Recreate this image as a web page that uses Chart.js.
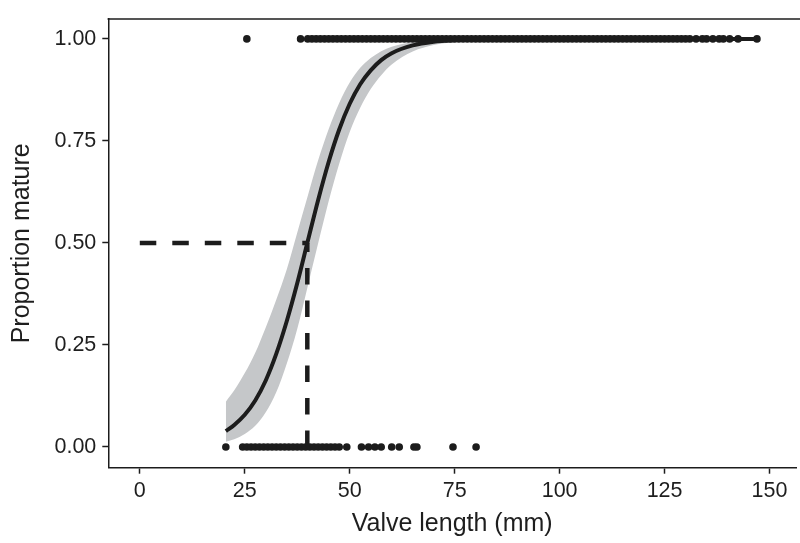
<!DOCTYPE html>
<html>
<head>
<meta charset="utf-8">
<script src="https://cdn.jsdelivr.net/npm/chart.js@4/dist/chart.umd.min.js"></script>
<style>
  html, body { margin: 0; padding: 0; background: #ffffff; }
  #wrap { width: 800px; height: 543px; position: relative; }
</style>
</head>
<body>
<div id="wrap"><canvas id="c" width="800" height="543"></canvas></div>
<script>
// ---- data ----
const xTicks = [0, 25, 50, 75, 100, 125, 150];
const yTicks = [0, 0.25, 0.5, 0.75, 1];

// valve lengths (mm) of immature individuals (plotted at 0)
const immatureLength = [20.5, 24.5, 25.5, 26.5, 27.5, 28.5, 29.5, 30.5, 31.5, 32.5, 33.5, 34.5,
  35.5, 36.5, 37.5, 38.5, 39.5, 40.5, 41.5, 42.5, 43.5, 44.5, 45.5, 46.5, 47.5, 49.3,
  52.8, 54.5, 56, 57.5, 60, 61.8, 65.3, 66, 74.6, 80.1];

// valve lengths (mm) of mature individuals (plotted at 1)
const matureLength = [25.5, 38.3, 40, 41, 42, 43, 44, 45, 46, 47, 48, 49, 50, 51, 52, 53, 54, 55,
  56, 57, 58, 59, 60, 61, 62, 63, 64, 65, 66, 67, 68, 69, 70, 71, 72, 73, 74, 75, 76, 77, 78, 79,
  80, 81, 82, 83, 84, 85, 86, 87, 88, 89, 90, 91, 92, 93, 94, 95, 96, 97, 98, 99, 100, 101, 102,
  103, 104, 105, 106, 107, 108, 109, 110, 111, 112, 113, 114, 115, 116, 117, 118, 119, 120, 121,
  122, 123, 124, 125, 126, 127, 128, 129, 130, 131, 132.5, 134, 135, 136.5, 138, 139, 140.5, 142.5, 147];

// fitted logistic curve and its confidence band
const fitLength = [20.5, 22.5, 25, 27.5, 30, 32.5, 35, 37.5, 40, 42.5, 45, 47.5, 50, 52.5, 55, 57.5,
  60, 65, 70, 75, 80, 90, 100, 120, 147];
const fitProb = [0.039, 0.054, 0.079, 0.114, 0.163, 0.228, 0.308, 0.401, 0.504, 0.606, 0.699, 0.778,
  0.841, 0.889, 0.923, 0.948, 0.965, 0.984, 0.993, 0.997, 0.999, 1.0, 1.0, 1.0, 1.0];
const fitLower = [0.013, 0.019, 0.032, 0.052, 0.085, 0.134, 0.204, 0.289, 0.394, 0.500, 0.603, 0.694,
  0.772, 0.831, 0.877, 0.911, 0.937, 0.969, 0.985, 0.992, 0.996, 0.999, 1.0, 1.0, 1.0];
const fitUpper = [0.111, 0.139, 0.181, 0.231, 0.293, 0.361, 0.435, 0.525, 0.615, 0.703, 0.779, 0.843,
  0.893, 0.929, 0.953, 0.970, 0.981, 0.992, 0.997, 0.999, 1.0, 1.0, 1.0, 1.0, 1.0];

// length at 50% maturity (dashed guide)
const l50 = 39.9;
const l50Prob = 0.5;

// ---- build ----
const ink = '#1c1c1c';
const pts = (xs, ys) => xs.map((x, i) => ({ x: x, y: Array.isArray(ys) ? ys[i] : ys }));

const topBorder = {
  id: 'topBorder',
  afterDraw(chart) {
    const a = chart.chartArea, ctx = chart.ctx;
    ctx.save();
    ctx.strokeStyle = ink;
    ctx.lineWidth = 1.5;
    ctx.beginPath();
    ctx.moveTo(a.left - 0.75, a.top);
    ctx.lineTo(chart.width, a.top);
    ctx.stroke();
    ctx.restore();
  }
};

new Chart(document.getElementById('c'), {
  type: 'scatter',
  data: {
    datasets: [
      { // dashed horizontal guide
        data: [{ x: 0, y: l50Prob }, { x: l50, y: l50Prob }],
        showLine: true, borderColor: ink, borderWidth: 4.5, borderDash: [16.5, 16],
        borderCapStyle: 'butt', pointRadius: 0, order: 0
      },
      { // dashed vertical guide
        data: [{ x: l50, y: 0 }, { x: l50, y: l50Prob }],
        showLine: true, borderColor: ink, borderWidth: 4.5, borderDash: [16.5, 16],
        borderCapStyle: 'butt', pointRadius: 0, order: 0
      },
      { // fitted curve
        data: pts(fitLength, fitProb),
        showLine: true, borderColor: ink, borderWidth: 4, pointRadius: 0,
        cubicInterpolationMode: 'monotone', order: 1
      },
      { // mature points
        data: pts(matureLength, 1),
        backgroundColor: ink, borderWidth: 0, pointRadius: 3.8, order: 2
      },
      { // immature points
        data: pts(immatureLength, 0),
        backgroundColor: ink, borderWidth: 0, pointRadius: 3.8, order: 2
      },
      { // band upper
        data: pts(fitLength, fitUpper),
        showLine: true, borderWidth: 0, borderColor: 'rgba(0,0,0,0)', pointRadius: 0,
        cubicInterpolationMode: 'monotone', fill: '+1', backgroundColor: '#c5c7c9', order: 3
      },
      { // band lower
        data: pts(fitLength, fitLower),
        showLine: true, borderWidth: 0, borderColor: 'rgba(0,0,0,0)', pointRadius: 0,
        cubicInterpolationMode: 'monotone', order: 4
      }
    ]
  },
  options: {
    responsive: false,
    animation: false,
    events: [],
    layout: { padding: { top: 15, right: 0, left: 0, bottom: 0 } },
    plugins: { legend: { display: false }, tooltip: { enabled: false } },
    scales: {
      x: {
        type: 'linear', min: -7.5, max: 156.3,
        afterBuildTicks: s => { s.ticks = xTicks.map(v => ({ value: v })); },
        afterFit: s => { s.height = 75.3; },
        ticks: { color: '#1e1e1e', font: { family: 'Liberation Sans', size: 21.5 }, padding: 4,
                 maxRotation: 0, autoSkip: false, callback: v => String(v) },
        grid: { drawOnChartArea: false, drawTicks: true, tickLength: 6, tickWidth: 1.5, tickColor: ink },
        border: { display: true, color: ink, width: 1.5 },
        title: { display: true, text: 'Valve length (mm)', color: '#1e1e1e',
                 font: { family: 'Liberation Sans', size: 25 }, padding: { top: 0, bottom: 4 } }
      },
      y: {
        type: 'linear', min: -0.0508, max: 1.049,
        afterBuildTicks: s => { s.ticks = yTicks.map(v => ({ value: v })); },
        afterFit: s => { s.width = 108.3; },
        ticks: { color: '#1e1e1e', font: { family: 'Liberation Sans', size: 21.5 }, padding: 6,
                 autoSkip: false, callback: v => Number(v).toFixed(2) },
        grid: { drawOnChartArea: false, drawTicks: true, tickLength: 6, tickWidth: 1.5, tickColor: ink },
        border: { display: true, color: ink, width: 1.5 },
        title: { display: true, text: 'Proportion mature', color: '#1e1e1e',
                 font: { family: 'Liberation Sans', size: 25 }, padding: { top: 7, bottom: 0 } }
      }
    }
  },
  plugins: [topBorder]
});
</script>
</body>
</html>
